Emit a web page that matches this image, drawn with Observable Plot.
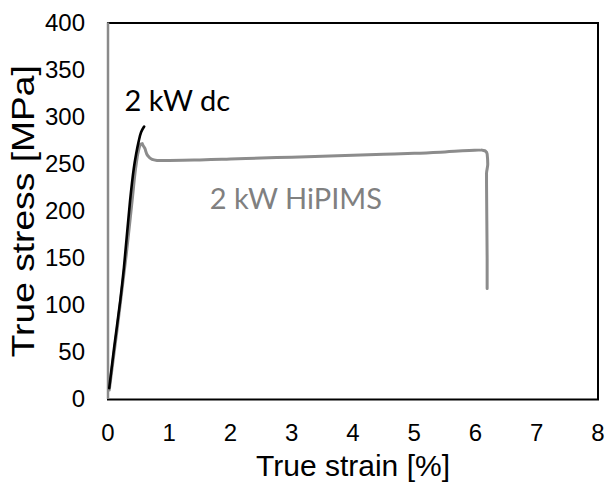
<!DOCTYPE html>
<html>
<head>
<meta charset="utf-8">
<script src="https://cdn.jsdelivr.net/npm/d3@7"></script>
<script src="https://cdn.jsdelivr.net/npm/@observablehq/plot@0.6"></script>
<style>
  html, body { margin: 0; padding: 0; background: #fff; }
  #chart svg { display: block; overflow: visible; }
</style>
</head>
<body>
<div id="chart"></div>
<script>
// 2 kW dc (black curve)
const dcStrain = [0.02, 0.10, 0.20, 0.26, 0.36, 0.42, 0.46, 0.50, 0.54, 0.59];
const dcStress = [12, 55, 105, 140, 211, 245, 261, 274, 284, 290];

// 2 kW HiPIMS (grey curve)
const hipStrain = [0.02, 0.15, 0.30, 0.40, 0.46, 0.50, 0.53, 0.56, 0.60, 0.65, 0.72, 0.80, 1.0, 1.5, 2.0, 2.5, 3.0, 3.5, 4.0, 4.5, 5.0, 5.5, 5.9, 6.10, 6.16, 6.19, 6.20, 6.18, 6.18, 6.19, 6.19];
const hipStress = [10, 75, 155, 215, 250, 265, 271, 272, 267, 259, 255, 254, 254, 254.5, 255.5, 256.5, 257.5, 258.5, 259.5, 260.5, 261.5, 263, 264.5, 265, 264, 261, 250, 240, 230, 150, 118];

// annotation labels
const labelText = ["2 kW dc", "2 kW HiPIMS"];
const labelX = [0.27, 1.66];
const labelY = [316, 212];
const labelColor = ["#000000", "#808080"];

const xTicks = [0, 1, 2, 3, 4, 5, 6, 7, 8];
const yTicks = [0, 50, 100, 150, 200, 250, 300, 350, 400];
const xTitle = "True strain [%]";
const yTitle = "True stress [MPa]";

const dc = dcStrain.map((x, i) => ({x, y: dcStress[i]}));
const hip = hipStrain.map((x, i) => ({x, y: hipStress[i]}));
const labels = labelText.map((t, i) => ({t, x: labelX[i], y: labelY[i], c: labelColor[i]}));

const chart = Plot.plot({
  width: 606,
  height: 482,
  marginLeft: 107.5,
  marginRight: 8.5,
  marginTop: 22.5,
  marginBottom: 83,
  style: {fontFamily: "'Liberation Sans', Arial, sans-serif", background: "#fff", color: "#000"},
  x: {domain: [0, 8], ticks: xTicks},
  y: {domain: [0, 400], ticks: yTicks},
  marks: [
    Plot.axisX({ticks: xTicks, tickSize: 0, tickPadding: 24, fontSize: 24, label: null}),
    Plot.axisY({ticks: yTicks, tickSize: 0, tickPadding: 23, fontSize: 24, label: null}),
    Plot.frame({stroke: "#000", strokeWidth: 2}),
    Plot.ruleX([0], {stroke: "#8a8a8a", strokeWidth: 2.5}),
    Plot.line(hip, {x: "x", y: "y", stroke: "#8c8c8c", strokeWidth: 3, curve: "monotone-y"}),
    Plot.line(dc, {x: "x", y: "y", stroke: "#000", strokeWidth: 2.6, curve: "catmull-rom"}),
    Plot.text(labels, {x: "x", y: "y", text: "t", fill: "c", textAnchor: "start", fontSize: 29, fontFamily: "Lato, 'Open Sans', sans-serif"}),
    Plot.text([xTitle], {frameAnchor: "bottom", textAnchor: "middle", lineAnchor: "middle", dy: 67, fontSize: 30, fill: "#000"}),
    Plot.text([yTitle], {frameAnchor: "left", textAnchor: "middle", lineAnchor: "middle", dx: -84, rotate: -90, fontSize: 31, fill: "#000"})
  ]
});
d3.select(chart).selectAll("text").filter(function() { return this.textContent === yTitle; })
  .attr("textLength", 292).attr("lengthAdjust", "spacingAndGlyphs");
document.getElementById("chart").appendChild(chart);
</script>
</body>
</html>
